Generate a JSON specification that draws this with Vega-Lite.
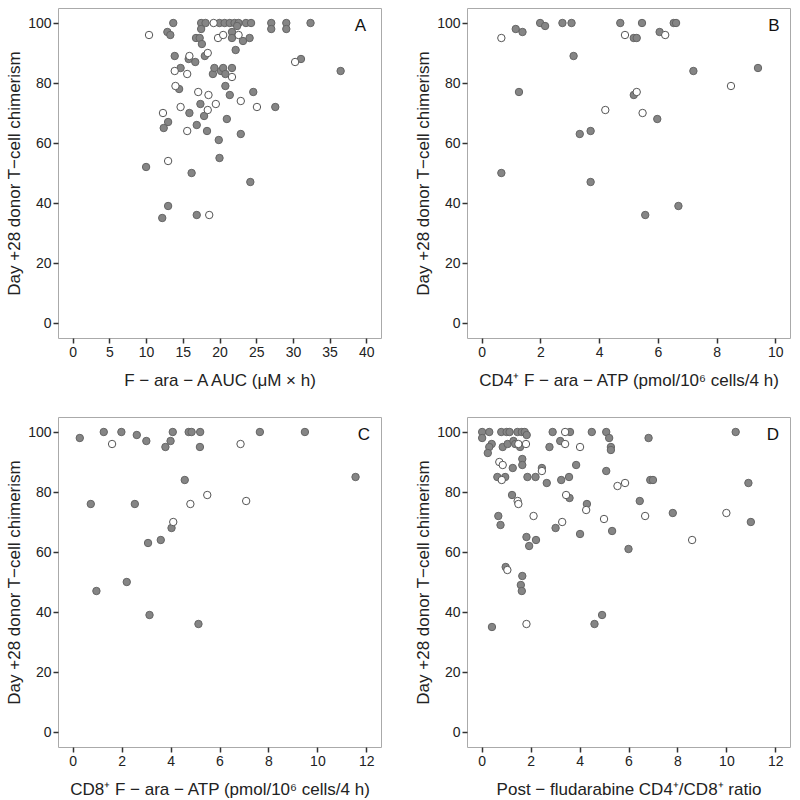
{
  "$schema": "https://vega.github.io/schema/vega-lite/v6.json",
  "padding": {"left": 5, "top": 7, "right": 5, "bottom": 5},
  "background": "white",
  "columns": 2,
  "bounds": "flush",
  "spacing": {"row": 79, "column": 86},
  "config": {
    "view": {"stroke": "#aaaaaa", "strokeWidth": 1},
    "axis": {
      "domain": false, "grid": false,
      "tickColor": "#333333", "tickWidth": 1.5, "tickSize": 5,
      "labelFont": "Liberation Sans", "labelFontSize": 14, "labelColor": "#222222", "labelPadding": 2,
      "titleFont": "Liberation Sans", "titleFontSize": 17, "titleFontWeight": "normal", "titleColor": "#222222"
    },
    "axisX": {"titlePadding": 13},
    "axisY": {"titlePadding": 4},
    "text": {"font": "Liberation Sans", "fontSize": 17, "color": "#111111"}
  },
  "datasets": {
    "A": [
      {"x":13.7,"y":100,"g":"F"},{"x":17.5,"y":100,"g":"F"},{"x":18.1,"y":100,"g":"F"},{"x":20.0,"y":100,"g":"F"},{"x":20.7,"y":100,"g":"F"},{"x":21.4,"y":100,"g":"F"},{"x":22.05,"y":100,"g":"F"},{"x":22.6,"y":100,"g":"F"},{"x":23.6,"y":100,"g":"F"},{"x":24.3,"y":100,"g":"F"},{"x":27.05,"y":100,"g":"F"},{"x":29.1,"y":100,"g":"F"},{"x":32.4,"y":100,"g":"F"},
      {"x":17.5,"y":98,"g":"F"},{"x":27.05,"y":98,"g":"F"},{"x":29.1,"y":98,"g":"F"},{"x":22.4,"y":99,"g":"F"},
      {"x":12.9,"y":97,"g":"F"},{"x":13.3,"y":96,"g":"F"},{"x":16.8,"y":95,"g":"F"},{"x":17.3,"y":95,"g":"F"},{"x":21.7,"y":97,"g":"F"},{"x":21.7,"y":95,"g":"F"},{"x":23.2,"y":94,"g":"F"},{"x":24.1,"y":95,"g":"F"},{"x":17.6,"y":93,"g":"F"},{"x":22.2,"y":91,"g":"F"},
      {"x":13.9,"y":89,"g":"F"},{"x":15.8,"y":88,"g":"F"},{"x":16.7,"y":87,"g":"F"},{"x":18.0,"y":89,"g":"F"},{"x":31.1,"y":88,"g":"F"},{"x":36.5,"y":84,"g":"F"},
      {"x":14.7,"y":85,"g":"F"},{"x":19.1,"y":83,"g":"F"},{"x":19.3,"y":85,"g":"F"},{"x":20.2,"y":84,"g":"F"},{"x":20.5,"y":85,"g":"F"},{"x":20.8,"y":83,"g":"F"},{"x":21.7,"y":85,"g":"F"},
      {"x":14.5,"y":78,"g":"F"},{"x":20.8,"y":79,"g":"F"},{"x":21.4,"y":76,"g":"F"},{"x":24.6,"y":77,"g":"F"},{"x":17.4,"y":73,"g":"F"},{"x":27.6,"y":72,"g":"F"},{"x":15.9,"y":70,"g":"F"},{"x":17.9,"y":69,"g":"F"},
      {"x":21.0,"y":68,"g":"F"},{"x":13.0,"y":67,"g":"F"},{"x":12.4,"y":65,"g":"F"},{"x":16.9,"y":66,"g":"F"},{"x":18.3,"y":64,"g":"F"},{"x":22.9,"y":63,"g":"F"},{"x":19.9,"y":61,"g":"F"},
      {"x":20.0,"y":55,"g":"F"},{"x":10.0,"y":52,"g":"F"},{"x":16.2,"y":50,"g":"F"},{"x":24.2,"y":47,"g":"F"},{"x":13.0,"y":39,"g":"F"},{"x":12.2,"y":35,"g":"F"},{"x":16.9,"y":36,"g":"F"},
      {"x":19.2,"y":100,"g":"O"},{"x":10.4,"y":96,"g":"O"},{"x":19.8,"y":95,"g":"O"},{"x":20.5,"y":96,"g":"O"},{"x":22.6,"y":96,"g":"O"},{"x":15.9,"y":89,"g":"O"},{"x":18.4,"y":90,"g":"O"},{"x":30.3,"y":87,"g":"O"},
      {"x":13.9,"y":84,"g":"O"},{"x":15.6,"y":83,"g":"O"},{"x":21.7,"y":82,"g":"O"},{"x":14.0,"y":79,"g":"O"},{"x":17.1,"y":77,"g":"O"},{"x":18.5,"y":76,"g":"O"},{"x":22.9,"y":74,"g":"O"},{"x":19.5,"y":73,"g":"O"},
      {"x":14.7,"y":72,"g":"O"},{"x":18.4,"y":71,"g":"O"},{"x":25.1,"y":72,"g":"O"},{"x":12.3,"y":70,"g":"O"},{"x":15.6,"y":64,"g":"O"},{"x":13.0,"y":54,"g":"O"},{"x":18.6,"y":36,"g":"O"}
    ],
    "B": [
      {"x":1.16,"y":98,"g":"F"},{"x":1.39,"y":97,"g":"F"},{"x":1.99,"y":100,"g":"F"},{"x":2.16,"y":99,"g":"F"},{"x":2.75,"y":100,"g":"F"},{"x":3.06,"y":100,"g":"F"},{"x":4.72,"y":100,"g":"F"},{"x":5.46,"y":100,"g":"F"},{"x":6.54,"y":100,"g":"F"},{"x":6.62,"y":100,"g":"F"},
      {"x":5.18,"y":95,"g":"F"},{"x":5.28,"y":95,"g":"F"},{"x":6.06,"y":97,"g":"F"},{"x":3.13,"y":89,"g":"F"},{"x":7.21,"y":84,"g":"F"},{"x":9.41,"y":85,"g":"F"},{"x":1.27,"y":77,"g":"F"},{"x":5.18,"y":76,"g":"F"},
      {"x":5.98,"y":68,"g":"F"},{"x":3.34,"y":63,"g":"F"},{"x":3.71,"y":64,"g":"F"},{"x":0.67,"y":50,"g":"F"},{"x":3.71,"y":47,"g":"F"},{"x":6.70,"y":39,"g":"F"},{"x":5.57,"y":36,"g":"F"},
      {"x":0.67,"y":95,"g":"O"},{"x":4.88,"y":96,"g":"O"},{"x":6.25,"y":96,"g":"O"},{"x":8.49,"y":79,"g":"O"},{"x":5.28,"y":77,"g":"O"},{"x":4.21,"y":71,"g":"O"},{"x":5.48,"y":70,"g":"O"}
    ],
    "C": [
      {"x":0.29,"y":98,"g":"F"},{"x":1.27,"y":100,"g":"F"},{"x":1.99,"y":100,"g":"F"},{"x":2.62,"y":99,"g":"F"},{"x":3.01,"y":97,"g":"F"},{"x":4.09,"y":100,"g":"F"},{"x":4.0,"y":97,"g":"F"},{"x":3.79,"y":95,"g":"F"},
      {"x":4.74,"y":100,"g":"F"},{"x":4.86,"y":100,"g":"F"},{"x":5.21,"y":100,"g":"F"},{"x":5.20,"y":95,"g":"F"},{"x":7.65,"y":100,"g":"F"},{"x":9.49,"y":100,"g":"F"},{"x":11.56,"y":85,"g":"F"},{"x":4.58,"y":84,"g":"F"},
      {"x":0.74,"y":76,"g":"F"},{"x":2.54,"y":76,"g":"F"},{"x":4.04,"y":68,"g":"F"},{"x":3.08,"y":63,"g":"F"},{"x":3.60,"y":64,"g":"F"},{"x":2.21,"y":50,"g":"F"},{"x":0.97,"y":47,"g":"F"},{"x":3.14,"y":39,"g":"F"},{"x":5.14,"y":36,"g":"F"},
      {"x":1.61,"y":96,"g":"O"},{"x":6.86,"y":96,"g":"O"},{"x":5.50,"y":79,"g":"O"},{"x":4.81,"y":76,"g":"O"},{"x":7.09,"y":77,"g":"O"},{"x":4.11,"y":70,"g":"O"}
    ],
    "D": [
      {"x":0.02,"y":100,"g":"F"},{"x":0.31,"y":100,"g":"F"},{"x":0.80,"y":100,"g":"F"},{"x":1.02,"y":100,"g":"F"},{"x":1.14,"y":100,"g":"F"},{"x":1.46,"y":100,"g":"F"},{"x":1.64,"y":100,"g":"F"},{"x":1.76,"y":100,"g":"F"},{"x":2.90,"y":100,"g":"F"},{"x":3.61,"y":100,"g":"F"},{"x":4.50,"y":100,"g":"F"},{"x":5.09,"y":100,"g":"F"},{"x":10.38,"y":100,"g":"F"},
      {"x":1.84,"y":99,"g":"F"},{"x":0.02,"y":98,"g":"F"},{"x":5.21,"y":98,"g":"F"},{"x":5.28,"y":95,"g":"F"},{"x":5.28,"y":94,"g":"F"},{"x":6.82,"y":98,"g":"F"},
      {"x":0.41,"y":96,"g":"F"},{"x":0.31,"y":95,"g":"F"},{"x":0.25,"y":93,"g":"F"},{"x":0.86,"y":95,"g":"F"},{"x":1.06,"y":96,"g":"F"},{"x":1.30,"y":97,"g":"F"},{"x":1.37,"y":96,"g":"F"},{"x":1.57,"y":95,"g":"F"},{"x":2.77,"y":95,"g":"F"},{"x":3.21,"y":97,"g":"F"},
      {"x":1.27,"y":88,"g":"F"},{"x":1.66,"y":91,"g":"F"},{"x":1.66,"y":89,"g":"F"},{"x":2.46,"y":88,"g":"F"},{"x":3.86,"y":89,"g":"F"},{"x":5.09,"y":87,"g":"F"},
      {"x":0.64,"y":85,"g":"F"},{"x":0.96,"y":85,"g":"F"},{"x":1.87,"y":85,"g":"F"},{"x":2.2,"y":85,"g":"F"},{"x":2.66,"y":83,"g":"F"},{"x":3.25,"y":84,"g":"F"},{"x":3.57,"y":85,"g":"F"},
      {"x":6.89,"y":84,"g":"F"},{"x":7.0,"y":84,"g":"F"},{"x":10.9,"y":83,"g":"F"},{"x":1.24,"y":79,"g":"F"},{"x":3.59,"y":78,"g":"F"},{"x":4.3,"y":76,"g":"F"},{"x":6.46,"y":77,"g":"F"},
      {"x":0.68,"y":72,"g":"F"},{"x":0.77,"y":69,"g":"F"},{"x":3.02,"y":68,"g":"F"},{"x":4.02,"y":66,"g":"F"},{"x":7.81,"y":73,"g":"F"},{"x":11.0,"y":70,"g":"F"},{"x":5.33,"y":67,"g":"F"},{"x":6.0,"y":61,"g":"F"},
      {"x":1.83,"y":65,"g":"F"},{"x":1.94,"y":62,"g":"F"},{"x":2.22,"y":64,"g":"F"},{"x":0.98,"y":55,"g":"F"},{"x":1.66,"y":52,"g":"F"},{"x":1.60,"y":49,"g":"F"},{"x":1.64,"y":47,"g":"F"},
      {"x":0.42,"y":35,"g":"F"},{"x":4.61,"y":36,"g":"F"},{"x":4.92,"y":39,"g":"F"},
      {"x":3.41,"y":100,"g":"O"},{"x":1.50,"y":96,"g":"O"},{"x":1.81,"y":96,"g":"O"},{"x":3.41,"y":96,"g":"O"},{"x":4.02,"y":95,"g":"O"},{"x":0.72,"y":90,"g":"O"},{"x":0.86,"y":89,"g":"O"},{"x":2.46,"y":87,"g":"O"},
      {"x":0.82,"y":84,"g":"O"},{"x":5.55,"y":82,"g":"O"},{"x":5.86,"y":83,"g":"O"},{"x":1.47,"y":77,"g":"O"},{"x":1.50,"y":76,"g":"O"},{"x":3.45,"y":79,"g":"O"},{"x":4.27,"y":74,"g":"O"},
      {"x":2.12,"y":72,"g":"O"},{"x":3.29,"y":70,"g":"O"},{"x":5.0,"y":71,"g":"O"},{"x":6.68,"y":72,"g":"O"},{"x":10.0,"y":73,"g":"O"},{"x":8.6,"y":64,"g":"O"},{"x":1.05,"y":54,"g":"O"},{"x":1.83,"y":36,"g":"O"}
    ]
  },
  "concat": [
    {
      "width": 323, "height": 330,
      "layer": [
        {
          "data": {"name": "A"},
          "mark": {"type": "circle", "size": 55, "strokeWidth": 1, "opacity": 1},
          "encoding": {
            "x": {"field": "x", "type": "quantitative", "scale": {"domain": [-2, 42], "nice": false, "zero": false}, "axis": {"values": [0, 5, 10, 15, 20, 25, 30, 35, 40], "title": "F − ara − A AUC (μM × h)"}},
            "y": {"field": "y", "type": "quantitative", "scale": {"domain": [-5, 105], "nice": false}, "axis": {"values": [0, 20, 40, 60, 80, 100], "title": "Day +28 donor T−cell chimerism"}},
            "fill": {"field": "g", "type": "nominal", "scale": {"domain": ["F", "O"], "range": ["#858585", "#ffffff"]}, "legend": null},
            "stroke": {"field": "g", "type": "nominal", "scale": {"domain": ["F", "O"], "range": ["#656565", "#555555"]}, "legend": null}
          }
        },
        {
          "data": {"values": [{"x": 39.2, "y": 99, "t": "A"}]},
          "mark": {"type": "text"},
          "encoding": {"x": {"field": "x", "type": "quantitative"}, "y": {"field": "y", "type": "quantitative"}, "text": {"field": "t"}}
        }
      ]
    },
    {
      "width": 323, "height": 330,
      "layer": [
        {
          "data": {"name": "B"},
          "mark": {"type": "circle", "size": 55, "strokeWidth": 1, "opacity": 1},
          "encoding": {
            "x": {"field": "x", "type": "quantitative", "scale": {"domain": [-0.5, 10.5], "nice": false, "zero": false}, "axis": {"values": [0, 2, 4, 6, 8, 10], "title": "CD4⁺ F − ara − ATP (pmol/10⁶ cells/4 h)"}},
            "y": {"field": "y", "type": "quantitative", "scale": {"domain": [-5, 105], "nice": false}, "axis": {"values": [0, 20, 40, 60, 80, 100], "title": "Day +28 donor T−cell chimerism"}},
            "fill": {"field": "g", "type": "nominal", "scale": {"domain": ["F", "O"], "range": ["#858585", "#ffffff"]}, "legend": null},
            "stroke": {"field": "g", "type": "nominal", "scale": {"domain": ["F", "O"], "range": ["#656565", "#555555"]}, "legend": null}
          }
        },
        {
          "data": {"values": [{"x": 9.95, "y": 99, "t": "B"}]},
          "mark": {"type": "text"},
          "encoding": {"x": {"field": "x", "type": "quantitative"}, "y": {"field": "y", "type": "quantitative"}, "text": {"field": "t"}}
        }
      ]
    },
    {
      "width": 323, "height": 330,
      "layer": [
        {
          "data": {"name": "C"},
          "mark": {"type": "circle", "size": 55, "strokeWidth": 1, "opacity": 1},
          "encoding": {
            "x": {"field": "x", "type": "quantitative", "scale": {"domain": [-0.6, 12.6], "nice": false, "zero": false}, "axis": {"values": [0, 2, 4, 6, 8, 10, 12], "title": "CD8⁺ F − ara − ATP (pmol/10⁶ cells/4 h)"}},
            "y": {"field": "y", "type": "quantitative", "scale": {"domain": [-5, 105], "nice": false}, "axis": {"values": [0, 20, 40, 60, 80, 100], "title": "Day +28 donor T−cell chimerism"}},
            "fill": {"field": "g", "type": "nominal", "scale": {"domain": ["F", "O"], "range": ["#858585", "#ffffff"]}, "legend": null},
            "stroke": {"field": "g", "type": "nominal", "scale": {"domain": ["F", "O"], "range": ["#656565", "#555555"]}, "legend": null}
          }
        },
        {
          "data": {"values": [{"x": 11.9, "y": 99, "t": "C"}]},
          "mark": {"type": "text"},
          "encoding": {"x": {"field": "x", "type": "quantitative"}, "y": {"field": "y", "type": "quantitative"}, "text": {"field": "t"}}
        }
      ]
    },
    {
      "width": 323, "height": 330,
      "layer": [
        {
          "data": {"name": "D"},
          "mark": {"type": "circle", "size": 55, "strokeWidth": 1, "opacity": 1},
          "encoding": {
            "x": {"field": "x", "type": "quantitative", "scale": {"domain": [-0.6, 12.6], "nice": false, "zero": false}, "axis": {"values": [0, 2, 4, 6, 8, 10, 12], "title": "Post − fludarabine CD4⁺/CD8⁺ ratio"}},
            "y": {"field": "y", "type": "quantitative", "scale": {"domain": [-5, 105], "nice": false}, "axis": {"values": [0, 20, 40, 60, 80, 100], "title": "Day +28 donor T−cell chimerism"}},
            "fill": {"field": "g", "type": "nominal", "scale": {"domain": ["F", "O"], "range": ["#858585", "#ffffff"]}, "legend": null},
            "stroke": {"field": "g", "type": "nominal", "scale": {"domain": ["F", "O"], "range": ["#656565", "#555555"]}, "legend": null}
          }
        },
        {
          "data": {"values": [{"x": 11.9, "y": 99, "t": "D"}]},
          "mark": {"type": "text"},
          "encoding": {"x": {"field": "x", "type": "quantitative"}, "y": {"field": "y", "type": "quantitative"}, "text": {"field": "t"}}
        }
      ]
    }
  ]
}
